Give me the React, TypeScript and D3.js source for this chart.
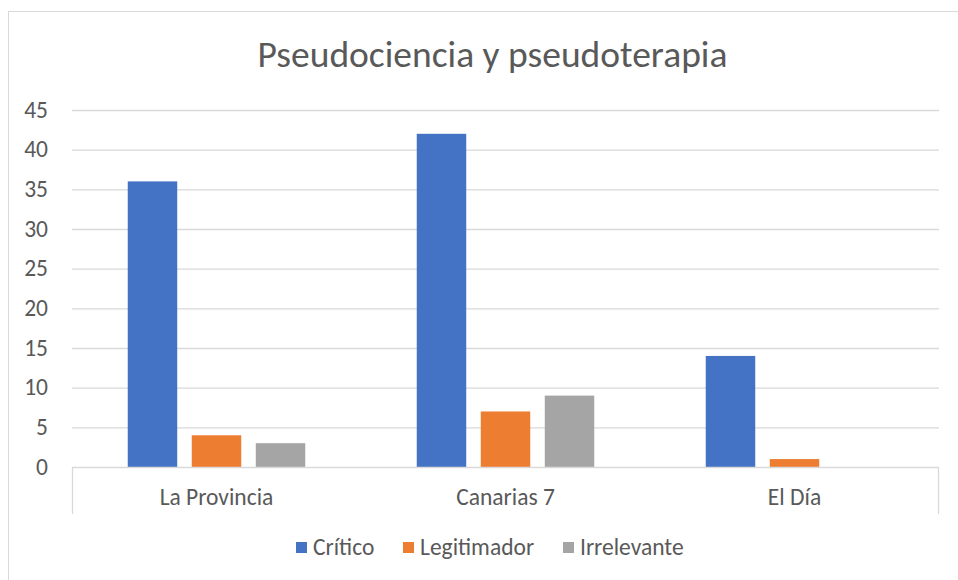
import React from 'react';
import * as d3 from 'd3';

const categories = ['La Provincia', 'Canarias 7', 'El Día'];
const seriesNames = ['Crítico', 'Legitimador', 'Irrelevante'];
const critico = [36, 42, 14];
const legitimador = [4, 7, 1];
const irrelevante = [3, 9, 0];
const yTicks = [0, 5, 10, 15, 20, 25, 30, 35, 40, 45];
const colors = ['#4472C4', '#ED7D31', '#A5A5A5'];

const FONT = 'Carlito, "Open Sans", sans-serif';
const TEXT = '#595959';
const GRID = '#D9D9D9';

const App: React.FC = () => {
  const width = 958;
  const height = 580;
  const plot = { left: 72, right: 939, top: 110, bottom: 467 };

  const values = [critico, legitimador, irrelevante];

  const x0 = d3.scaleBand<string>().domain(categories).range([plot.left, plot.right]).padding(0);
  const x1 = d3
    .scaleBand<string>()
    .domain(seriesNames)
    .range([0, x0.bandwidth()])
    .paddingInner(0.227)
    .paddingOuter(0.871);
  const y = d3.scaleLinear().domain([0, 45]).range([plot.bottom, plot.top]);

  const legendX = [296, 403, 563];
  const labelSize = 23.5;

  return (
    <svg
      width={width}
      height={height}
      style={{ position: 'absolute', left: 0, top: 0, background: '#fff' }}
      fontFamily={FONT}
    >
      <rect x={8.5} y={11.5} width={width + 10} height={height + 10} fill="#fff" stroke={GRID} />
      <text x={492.5} y={67} textAnchor="middle" fontSize={37.5} fill={TEXT}>
        Pseudociencia y pseudoterapia
      </text>

      {yTicks.map((t) => (
        <g key={t}>
          {t > 0 && (
            <line x1={plot.left} x2={plot.right} y1={y(t) + 0.5} y2={y(t) + 0.5} stroke={GRID} strokeWidth={1.3} />
          )}
          <text x={48} y={y(t)} dy="0.33em" textAnchor="end" fontSize={labelSize} fill={TEXT}>
            {t}
          </text>
        </g>
      ))}

      {categories.map((c, ci) => (
        <g key={c} transform={`translate(${x0(c)},0)`}>
          {seriesNames.map((s, si) => {
            const v = values[si][ci];
            if (v === 0) return null;
            return (
              <rect
                key={s}
                x={x1(s)}
                y={y(v)}
                width={x1.bandwidth()}
                height={y(0) - y(v)}
                fill={colors[si]}
              />
            );
          })}
          <text x={x0.bandwidth() / 2} y={497} dy="0.33em" textAnchor="middle" fontSize={labelSize} fill={TEXT}>
            {c}
          </text>
        </g>
      ))}

      <line x1={plot.left} x2={plot.right} y1={plot.bottom + 0.5} y2={plot.bottom + 0.5} stroke={GRID} strokeWidth={1.3} />
      <line x1={plot.left + 0.5} x2={plot.left + 0.5} y1={plot.bottom} y2={514} stroke={GRID} strokeWidth={1.3} />
      <line x1={plot.right - 0.5} x2={plot.right - 0.5} y1={plot.bottom} y2={514} stroke={GRID} strokeWidth={1.3} />

      {seriesNames.map((s, i) => (
        <g key={s} transform={`translate(${legendX[i]},542)`}>
          <rect width={11} height={11} fill={colors[i]} />
          <text x={17} y={5.5} dy="0.33em" fontSize={labelSize} fill={TEXT}>
            {s}
          </text>
        </g>
      ))}
    </svg>
  );
};

export default App;
